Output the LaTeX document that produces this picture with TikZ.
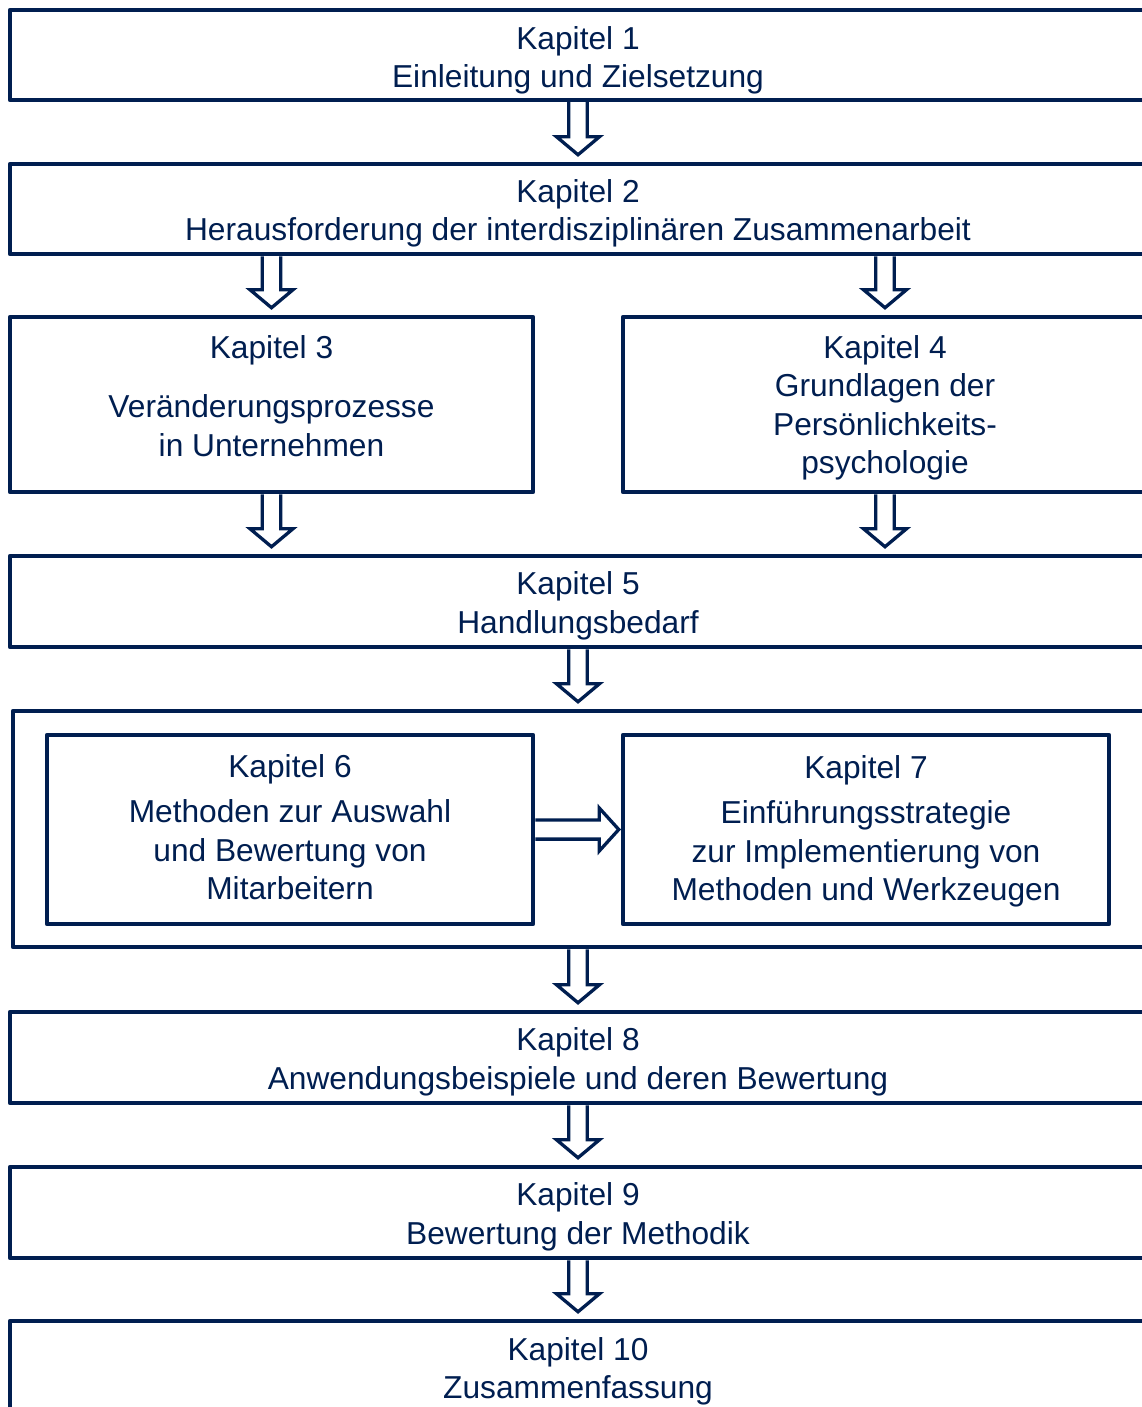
\documentclass[tikz,border=0pt]{standalone}
\usepackage{fontspec}
\setmainfont{Liberation Sans}
\usetikzlibrary{calc}
\definecolor{navy}{RGB}{0,30,80}
\newcommand\chapfont{\fontsize{31.7}{38.5}\selectfont}

% hollow block arrow pointing down, start and end given as coordinates
\newcommand\blockdown[2]{%
  \draw[blockarrow] let \p1=#1, \p2=#2 in
    (\x1-9.3pt,\y1) -- (\x1-9.3pt,\y2+25pt) -- (\x1-21.5pt,\y2+25pt)
    -- (\x1,\y2+7pt) -- (\x1+21.5pt,\y2+25pt) -- (\x1+9.3pt,\y2+25pt)
    -- (\x1+9.3pt,\y1);}
% hollow block arrow pointing right
\newcommand\blockright[2]{%
  \draw[blockarrow] let \p1=#1, \p2=#2 in
    (\x1,\y1+9.6pt) -- (\x2-21.5pt,\y1+9.6pt) -- (\x2-21.5pt,\y1+21.5pt)
    -- (\x2-2pt,\y1) -- (\x2-21.5pt,\y1-21.5pt) -- (\x2-21.5pt,\y1-9.6pt)
    -- (\x1,\y1-9.6pt);}

\tikzset{
  box/.style={draw=navy, line width=4.5pt, line join=round, rectangle,
    inner sep=0pt, minimum width=#1},
  box/.default=1136pt,
  lbl/.style={text=navy, align=center, font=\chapfont, inner sep=0pt},
  blockarrow/.style={draw=navy, line width=3.3pt, line join=miter, miter limit=10}
}

\begin{document}
\begin{tikzpicture}[x=1pt,y=-1pt]
\useasboundingbox (0,0) rectangle (1142,1407);
\clip (0,0) rectangle (1142,1407);

% chapter boxes
\node[box, minimum height=90pt] (k1) at (578,55) {};
\node[box, minimum height=90pt] (k2) at (578,209) {};
\node[box=523pt, minimum height=175pt] (k3) at (271.5,404.5) {};
\node[box=524pt, minimum height=175pt] (k4) at (885,404.5) {};
\node[box, minimum height=91pt] (k5) at (578,601.5) {};
\node[box=1147pt, minimum height=236pt] (k67) at (586.5,829) {};
\node[box=486pt, minimum height=189pt] (k6) at (290,829.5) {};
\node[box=486pt, minimum height=189pt] (k7) at (866,829.5) {};
\node[box, minimum height=91pt] (k8) at (578,1057.5) {};
\node[box, minimum height=91pt] (k9) at (578,1212.5) {};
\node[box, minimum height=91pt] (k10) at (578,1366.5) {};

% chapter titles
\node[lbl] (t1) at ($(k1.center)+(0,5.5)$) {Kapitel 1\\Einleitung und Zielsetzung};
\node[lbl] (t2) at ($(k2.center)+(0,4.5)$) {Kapitel 2\\Herausforderung der interdisziplinären Zusammenarbeit};
\node[lbl] (t3) at ($(k3.center)+(0,-8.5)$) {Kapitel 3\\[20.5pt]Veränderungsprozesse\\in Unternehmen};
\node[lbl] (t4) at ($(k4.center)+(0,3.5)$) {Kapitel 4\\Grundlagen der\\Persönlichkeits-\\psychologie};
\node[lbl] (t5) at ($(k5.center)+(0,4.5)$) {Kapitel 5\\Handlungsbedarf};
\node[lbl] (t6) at ($(k6.center)+(0,-2)$) {Kapitel 6\\[6.5pt]Methoden zur Auswahl\\und Bewertung von\\Mitarbeitern};
\node[lbl] (t7) at ($(k7.center)+(0,2)$) {Kapitel 7\\[6.5pt]Einführungsstrategie\\zur Implementierung von\\Methoden und Werkzeugen};
\node[lbl] (t8) at ($(k8.center)+(0,4.5)$) {Kapitel 8\\Anwendungsbeispiele und deren Bewertung};
\node[lbl] (t9) at ($(k9.center)+(0,4.5)$) {Kapitel 9\\Bewertung der Methodik};
\node[lbl] (t10) at ($(k10.center)+(0,5)$) {Kapitel 10\\Zusammenfassung};

% flow between chapters
\blockdown{(k1.south)}{(k2.north)}
\blockdown{(k2.south -| k3.north)}{(k3.north)}
\blockdown{(k2.south -| k4.north)}{(k4.north)}
\blockdown{(k3.south)}{(k3.south |- k5.north)}
\blockdown{(k4.south)}{(k4.south |- k5.north)}
\blockdown{(k5.south)}{(k5.south |- k67.north)}
\blockright{(k6.east)}{(k7.west)}
\blockdown{(k8.north |- k67.south)}{(k8.north)}
\blockdown{(k8.south)}{(k9.north)}
\blockdown{(k9.south)}{(k10.north)}
\end{tikzpicture}
\end{document}
